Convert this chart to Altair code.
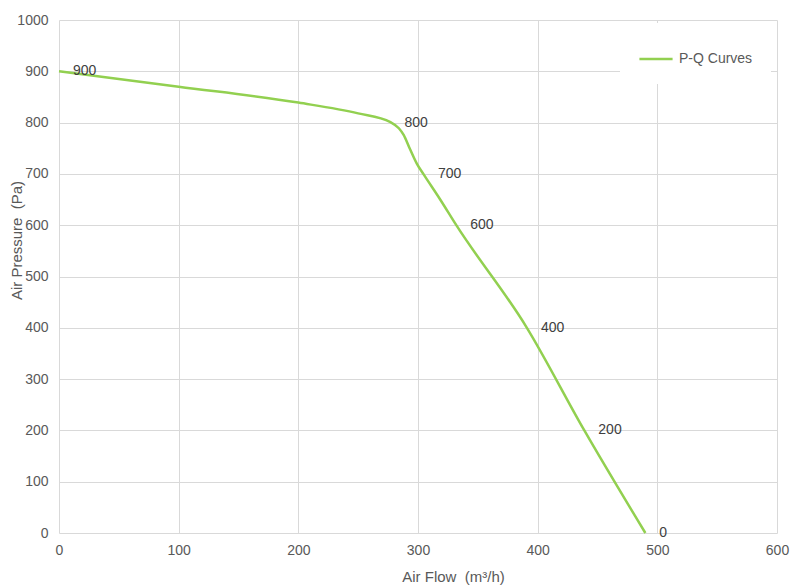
import pandas as pd
import altair as alt

# P-Q curve
air_flow = [0, 100, 200, 250, 277, 284, 288, 293, 299, 305, 318, 332, 391, 439, 490]
air_pressure = [900, 870, 839, 818, 801, 789, 776, 750, 720, 698, 652, 600, 400, 200, 0]
series = ["P-Q Curves"] * len(air_flow)

# points that carry a data label
label_flow = [0, 277, 305, 332, 391, 439, 490]
label_pressure = [900, 800, 700, 600, 400, 200, 0]

df = pd.DataFrame({"flow": air_flow, "pressure": air_pressure, "serie": series})
df_lab = pd.DataFrame({"flow": label_flow, "pressure": label_pressure})
df_lab["label"] = df_lab["pressure"].astype(str)

FONT = "Liberation Sans"
GREEN = "#92d050"

x_enc = alt.X(
    "flow:Q",
    scale=alt.Scale(domain=[0, 600], nice=False),
    axis=alt.Axis(
        values=[0, 100, 200, 300, 400, 500, 600],
        format="d", labelFlush=False,
        title="Air Flow\u00a0 (m³/h)",
        titleX=394, titleY=43, titleAlign="center", titleBaseline="middle",
        labelPadding=10,
    ),
)
y_enc = alt.Y(
    "pressure:Q",
    scale=alt.Scale(domain=[0, 1000], nice=False),
    axis=alt.Axis(
        values=list(range(0, 1001, 100)),
        format="d", labelFlush=False,
        title="Air Pressure\u00a0 (Pa)",
        titleX=-43, titleY=220, titleAngle=270, titleAlign="center", titleBaseline="middle",
        labelPadding=11,
    ),
)

linha = (
    alt.Chart(df)
    .mark_line(interpolate="monotone", strokeWidth=2.5)
    .encode(
        x=x_enc,
        y=y_enc,
        color=alt.Color(
            "serie:N",
            scale=alt.Scale(range=[GREEN]),
            legend=alt.Legend(
                title=None, orient="none", legendX=561, legendY=3,
                fillColor="white", padding=18, symbolType="stroke",
                symbolSize=1100, symbolStrokeWidth=2.5, labelOffset=5,
                labelFontSize=14, labelColor="#595959", labelFont=FONT,
            ),
        ),
    )
)

rotulos = (
    alt.Chart(df_lab)
    .mark_text(align="left", baseline="middle", dx=14, fontSize=14, font=FONT, color="#404040")
    .encode(x="flow:Q", y="pressure:Q", text="label:N")
)

chart = (
    alt.layer(linha, rotulos)
    .properties(
        width=718, height=513,
        autosize="none",
        padding={"left": 51, "top": 12, "right": 23, "bottom": 60},
        background="white",
    )
    .configure_view(stroke=None)
    .configure_axis(
        domain=False, ticks=False, grid=True, gridColor="#d9d9d9", gridWidth=1,
        labelFont=FONT, labelFontSize=14, labelColor="#595959",
        titleFont=FONT, titleFontSize=15, titleColor="#595959", titleFontWeight="normal",
    )
)

chart.save("out.html", embed_options={"renderer": "svg", "actions": False})
